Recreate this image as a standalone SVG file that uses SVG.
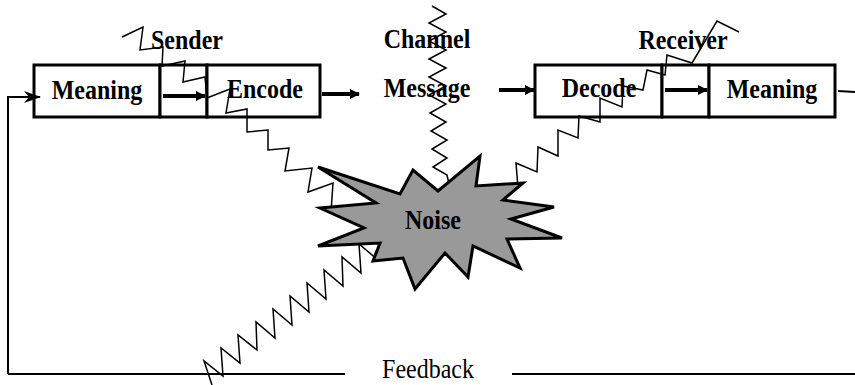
<svg xmlns="http://www.w3.org/2000/svg" width="855" height="385" viewBox="0 0 855 385">
<style>
.box{fill:#fff;stroke:#000;stroke-width:3}
.lbl{font-family:"Liberation Serif","Times New Roman",serif;font-weight:bold;font-size:25px;fill:#000;text-anchor:middle}
.fb{font-family:"Liberation Serif","Times New Roman",serif;font-size:25px;fill:#000;text-anchor:middle}
.zz{fill:none;stroke:#000;stroke-width:1.5;stroke-linejoin:miter}
.thick{stroke:#000;stroke-width:4;fill:none}
.thin{stroke:#000;stroke-width:2;fill:none}
</style>
<defs>
<marker id="ah" markerUnits="userSpaceOnUse" markerWidth="12" markerHeight="12" refX="9" refY="5" orient="auto">
<path d="M0,0 L10,5 L0,10 z" fill="#000"/>
</marker>
<marker id="fh" markerUnits="userSpaceOnUse" markerWidth="20" markerHeight="14" refX="16" refY="6" orient="auto">
<path d="M0,0 L17,6 L0,12 L5,6 z" fill="#000"/>
</marker>
</defs>

<g id="sender">
<rect class="box" x="34" y="65" width="126" height="52"/>
<rect class="box" x="160" y="65" width="47" height="52"/>
<rect class="box" x="207" y="65" width="113" height="52"/>
<text class="lbl" transform="translate(187,49) scale(0.96,1.1)">Sender</text>
<text class="lbl" transform="translate(97,99) scale(0.96,1.1)">Meaning</text>
<text class="lbl" transform="translate(265,98) scale(0.96,1.1)">Encode</text>
</g>

<g id="channel">
<text class="lbl" transform="translate(427,48) scale(0.96,1.1)">Channel</text>
<text class="lbl" transform="translate(427,97) scale(0.96,1.1)">Message</text>
</g>

<g id="receiver">
<rect class="box" x="535" y="65" width="127" height="52"/>
<rect class="box" x="662" y="65" width="47" height="52"/>
<rect class="box" x="709" y="65" width="126" height="52"/>
<text class="lbl" transform="translate(683,49) scale(0.96,1.1)">Receiver</text>
<text class="lbl" transform="translate(599,97) scale(0.96,1.1)">Decode</text>
<text class="lbl" transform="translate(772,98) scale(0.96,1.1)">Meaning</text>
</g>

<g id="connectors">
<line class="thick" x1="163" y1="96" x2="205" y2="96" marker-end="url(#ah)"/>
<line class="thick" x1="322" y1="94" x2="359" y2="94" marker-end="url(#ah)"/>
<line class="thick" x1="499" y1="90" x2="534" y2="90" marker-end="url(#ah)"/>
<line class="thick" x1="665" y1="90" x2="707" y2="90" marker-end="url(#ah)"/>
<polyline class="thin" points="8,374 8,97 40,97" marker-end="url(#fh)"/>
<line class="thin" x1="8" y1="374" x2="345" y2="374"/>
<line class="thin" x1="512" y1="374" x2="855" y2="374"/>
<line class="thin" x1="838" y1="91" x2="855" y2="92"/>
</g>

<g id="noise-lines">
<polyline class="zz" points="122,37 143,27 140,50 163,47 162,66 185,61 183,82 205,77 207,98 230,89 226,113 247,109 247,132 268,130 268,150 289,148 285,171 312,168 308,192 333,183 331,212"/>
<polyline class="zz" points="432,6 446,14 429,23 446,32 429,41 446,50 429,59 446,68 429,77 446,86 429,95 446,104 430,113 446,122 431,131 447,140 432,149 447,158 433,167 447,175 449,184"/>
<polyline class="zz" points="739,32 717,21 692,63 667,55 665,75 647,70 643,90 623,86 622,107 600,98 600,122 579,116 578,138 558,130 558,156 538,147 537,172 516,163 518,188"/>
<polyline class="zz" points="212,385 204,361 223,376 221,348 240,363 238,335 257,350 256,322 275,338 273,309 292,325 290,296 309,312 307,283 326,299 324,270 343,286 342,257 361,273 359,244 378,260 386,254"/>
</g>

<g id="noise">
<polygon points="318,167 400,194 413,170 438,191 480,156 476,186 523,183 503,200 554,207 511,219 562,238 507,239 520,268 473,246 468,277 445,253 415,289 403,258 373,261 380,243 318,246 364,228 320,208 376,203" fill="#999999" stroke="#000" stroke-width="3" stroke-linejoin="miter"/>
<text class="lbl" transform="translate(433,229) scale(0.96,1.1)">Noise</text>
</g>

<g id="feedback">
<text class="fb" transform="translate(428,378) scale(0.96,1.1)">Feedback</text>
</g>
</svg>
